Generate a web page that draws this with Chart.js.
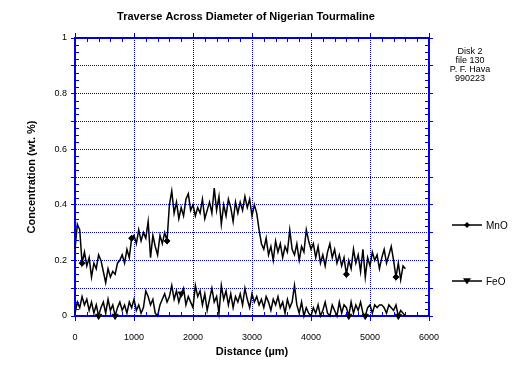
<!DOCTYPE html>
<html>
<head>
<meta charset="utf-8">
<script src="https://cdn.jsdelivr.net/npm/chart.js@4.4.1/dist/chart.umd.min.js"></script>
<style>
  body { margin: 0; background: #fff; }
  #wrap { width: 532px; height: 367px; }
</style>
</head>
<body>
<div id="wrap"><canvas id="traverse" width="532" height="367"></canvas></div>
<script>
// TRAVERSE ACROSS DIAMETER OF NIGERIAN TOURMALINE (probe steps, um)
const distanceUm = [
  0, 40, 80, 120, 160, 200, 240, 280, 320, 360,
  400, 440, 480, 520, 560, 600, 640, 680, 720, 760,
  800, 840, 880, 920, 960, 1000, 1040, 1080, 1120, 1160,
  1200, 1240, 1280, 1320, 1360, 1400, 1440, 1480, 1520, 1560,
  1600, 1640, 1680, 1720, 1760, 1800, 1840, 1880, 1920, 1960,
  2000, 2040, 2080, 2120, 2160, 2200, 2240, 2280, 2320, 2360,
  2400, 2440, 2480, 2520, 2560, 2600, 2640, 2680, 2720, 2760,
  2800, 2840, 2880, 2920, 2960, 3000, 3040, 3080, 3120, 3160,
  3200, 3240, 3280, 3320, 3360, 3400, 3440, 3480, 3520, 3560,
  3600, 3640, 3680, 3720, 3760, 3800, 3840, 3880, 3920, 3960,
  4000, 4040, 4080, 4120, 4160, 4200, 4240, 4280, 4320, 4360,
  4400, 4440, 4480, 4520, 4560, 4600, 4640, 4680, 4720, 4760,
  4800, 4840, 4880, 4920, 4960, 5000, 5040, 5080, 5120, 5160,
  5200, 5240, 5280, 5320, 5360, 5400, 5440, 5480, 5520, 5560,
  5600
];

// MnO wt. %
const mnoWt = [
  0.24, 0.33, 0.31, 0.19, 0.23, 0.18, 0.21, 0.14, 0.19, 0.17,
  0.22, 0.20, 0.16, 0.12, 0.17, 0.14, 0.16, 0.15, 0.19, 0.20,
  0.22, 0.19, 0.24, 0.21, 0.28, 0.29, 0.26, 0.31, 0.27, 0.30,
  0.28, 0.34, 0.21, 0.29, 0.25, 0.22, 0.29, 0.26, 0.30, 0.27,
  0.40, 0.45, 0.37, 0.41, 0.35, 0.39, 0.36, 0.42, 0.44, 0.38,
  0.40, 0.36, 0.39, 0.37, 0.42, 0.35, 0.38, 0.41, 0.37, 0.46,
  0.38, 0.43, 0.33, 0.40, 0.36, 0.42, 0.39, 0.34, 0.41, 0.37,
  0.41, 0.38, 0.43, 0.39, 0.42, 0.36, 0.40, 0.37, 0.31, 0.26,
  0.24, 0.28, 0.22, 0.25, 0.20, 0.27, 0.23, 0.26, 0.21, 0.25,
  0.23, 0.31, 0.24, 0.22, 0.26, 0.20, 0.25, 0.23, 0.31, 0.27,
  0.24, 0.26, 0.21, 0.25, 0.19, 0.22, 0.18, 0.23, 0.26, 0.21,
  0.24, 0.19, 0.22, 0.18, 0.21, 0.15, 0.20, 0.17, 0.24, 0.19,
  0.22, 0.16, 0.24, 0.14, 0.21, 0.18, 0.23, 0.20, 0.22, 0.17,
  0.21, 0.24, 0.19, 0.22, 0.25, 0.20, 0.14, 0.19, 0.13, 0.18,
  0.17
];

// FeO wt. %
const feoWt = [
  0.01, 0.05, 0.03, 0.07, 0.04, 0.06, 0.02, 0.05, 0.01, 0.04,
  0.00, 0.03, 0.05, 0.01, 0.06, 0.02, 0.04, 0.00, 0.03, 0.05,
  0.02, 0.04, 0.01, 0.05, 0.03, 0.06, 0.02, 0.04, 0.01, 0.03,
  0.09, 0.07, 0.04, 0.06, 0.01, 0.00, 0.04, 0.06, 0.08, 0.05,
  0.07, 0.11, 0.06, 0.09, 0.05, 0.08, 0.10, 0.04, 0.07, 0.05,
  0.03, 0.11, 0.07, 0.09, 0.04, 0.08, 0.02, 0.06, 0.10, 0.05,
  0.07, 0.01, 0.11, 0.06, 0.09, 0.04, 0.08, 0.03, 0.07, 0.05,
  0.08, 0.04, 0.10, 0.06, 0.03, 0.08, 0.05, 0.07, 0.04, 0.06,
  0.03, 0.07, 0.05, 0.02, 0.06, 0.04, 0.07, 0.03, 0.05, 0.01,
  0.06, 0.03, 0.05, 0.11, 0.04, 0.01, 0.05, 0.00, 0.03, 0.01,
  0.00, 0.03, 0.01, 0.04, 0.00, 0.02, 0.05, 0.01, 0.00, 0.04,
  0.02, 0.00, 0.05, 0.01, 0.04, 0.03, 0.00, 0.05, 0.01, 0.04,
  0.02, 0.05, 0.01, 0.00, 0.03, 0.04, 0.01, 0.04, 0.03, 0.04,
  0.04, 0.03, 0.01, 0.04, 0.03, 0.02, 0.04, 0.00, 0.02, 0.01,
  0.00
];

const seriesNames = ['MnO', 'FeO'];
const noteLines = ['Disk 2', 'file 130', 'P. F. Hava', '990223'];
const chartTitle = 'Traverse Across Diameter of Nigerian Tourmaline';

// which samples carry a symbol (the plot only marks a few of them)
const mnoMarkerAt = [3, 24, 39, 115, 136];
const feoMarkerAt = [10, 17, 45, 116, 123, 137];

const BLUE = '#0000e0';
const FONT = '"Liberation Sans", Arial, sans-serif';

Chart.defaults.font.family = FONT;
Chart.defaults.color = '#000';

function diamond(ctx, x, y, r) {
  ctx.beginPath();
  ctx.moveTo(x, y - r);
  ctx.lineTo(x + r, y);
  ctx.lineTo(x, y + r);
  ctx.lineTo(x - r, y);
  ctx.closePath();
  ctx.fill();
}

function downTriangle(ctx, x, y, r) {
  ctx.beginPath();
  ctx.moveTo(x - r, y - r * 0.7);
  ctx.lineTo(x + r, y - r * 0.7);
  ctx.lineTo(x, y + r * 0.9);
  ctx.closePath();
  ctx.fill();
}

// minor ticks, title, notes and the legend at the right
const decorations = {
  id: 'decorations',
  afterDraw(chart) {
    const ctx = chart.ctx;
    const { x, y } = chart.scales;
    const area = chart.chartArea;
    ctx.save();

    ctx.strokeStyle = BLUE;
    ctx.lineWidth = 1;
    ctx.beginPath();
    for (let v = 200; v < 6000; v += 200) {
      if (v % 1000 === 0) continue;
      const px = Math.round(x.getPixelForValue(v)) + 0.5;
      ctx.moveTo(px, area.bottom);
      ctx.lineTo(px, area.bottom - 4);
      ctx.moveTo(px, area.top);
      ctx.lineTo(px, area.top + 4);
    }
    for (let k = 1; k < 40; k++) {
      if (k % 4 === 0) continue;
      const py = Math.round(y.getPixelForValue(k * 0.025)) + 0.5;
      ctx.moveTo(area.left, py);
      ctx.lineTo(area.left + 4, py);
      ctx.moveTo(area.right, py);
      ctx.lineTo(area.right - 4, py);
    }
    ctx.stroke();

    ctx.fillStyle = '#000';
    ctx.textAlign = 'center';
    ctx.textBaseline = 'middle';
    ctx.font = 'bold 11px ' + FONT;
    ctx.fillText(chartTitle, 246, 17);

    ctx.font = '9px ' + FONT;
    noteLines.forEach((line, i) => ctx.fillText(line, 470, 52 + i * 9));

    // legend
    const rows = [225, 281];
    ctx.font = '10px ' + FONT;
    ctx.textAlign = 'left';
    ctx.strokeStyle = '#000';
    ctx.lineWidth = 1.5;
    chart.data.datasets.forEach((ds, i) => {
      const ly = rows[i];
      ctx.beginPath();
      ctx.moveTo(452, ly);
      ctx.lineTo(482, ly);
      ctx.stroke();
      if (i === 0) diamond(ctx, 467, ly, 3);
      else downTriangle(ctx, 467, ly, 4);
      ctx.fillText(ds.label, 486, ly + 1);
    });
    ctx.restore();
  }
};

function axisBorder() {
  return { display: true, color: BLUE, width: 2, dash: [1, 1] };
}

const ctx = document.getElementById('traverse').getContext('2d');
const chart = new Chart(ctx, {
  type: 'line',
  data: {
    datasets: [
      {
        label: seriesNames[0],
        data: mnoWt.map((v, i) => ({ x: distanceUm[i], y: v })),
        borderColor: '#000',
        backgroundColor: '#000',
        borderWidth: 1.5,
        pointStyle: 'rectRot',
        pointRadius: c => mnoMarkerAt.includes(c.dataIndex) ? 3 : 0,
        pointBorderWidth: 1,
        clip: 8
      },
      {
        label: seriesNames[1],
        data: feoWt.map((v, i) => ({ x: distanceUm[i], y: v })),
        borderColor: '#000',
        backgroundColor: '#000',
        borderWidth: 1.5,
        pointStyle: 'triangle',
        pointRotation: 180,
        pointRadius: c => feoMarkerAt.includes(c.dataIndex) ? 3.5 : 0,
        pointBorderWidth: 1,
        clip: 8
      }
    ]
  },
  options: {
    responsive: false,
    animation: false,
    devicePixelRatio: 1,
    layout: { padding: { top: 38, right: 103, left: 0, bottom: 0 } },
    plugins: {
      legend: { display: false },
      tooltip: { enabled: false },
      title: { display: false }
    },
    scales: {
      x: {
        type: 'linear',
        position: 'bottom',
        min: 0,
        max: 6000,
        afterFit: s => { s.height = 51; },
        ticks: { stepSize: 1000, padding: 11, font: { size: 9 }, maxRotation: 0, callback: v => String(v) },
        grid: { color: BLUE, lineWidth: 1, tickLength: 5 },
        border: axisBorder(),
        title: {
          display: true,
          text: 'Distance (µm)',
          font: { size: 11, weight: 'bold' },
          padding: { bottom: 8 }
        }
      },
      x2: {
        type: 'linear',
        position: 'top',
        min: 0,
        max: 6000,
        afterFit: s => { s.height = 0; },
        ticks: { stepSize: 1000, display: false },
        grid: { color: BLUE, drawOnChartArea: false, tickLength: 5 },
        border: axisBorder()
      },
      y: {
        type: 'linear',
        position: 'left',
        min: 0,
        max: 1,
        afterFit: s => { s.width = 75; },
        ticks: {
          stepSize: 0.1,
          padding: 4,
          font: { size: 9 },
          callback: v => Math.round(v * 10) % 2 === 0 ? String(Math.round(v * 10) / 10) : ''
        },
        grid: { color: BLUE, lineWidth: 1, tickLength: 4 },
        border: axisBorder(),
        title: {
          display: true,
          text: 'Concentration (wt. %)',
          font: { size: 11, weight: 'bold' },
          padding: { top: 25 }
        }
      },
      y2: {
        type: 'linear',
        position: 'right',
        min: 0,
        max: 1,
        afterFit: s => { s.width = 0; },
        ticks: { stepSize: 0.1, display: false },
        grid: { color: BLUE, drawOnChartArea: false, tickLength: 4 },
        border: axisBorder()
      }
    }
  },
  plugins: [decorations]
});
</script>
</body>
</html>
